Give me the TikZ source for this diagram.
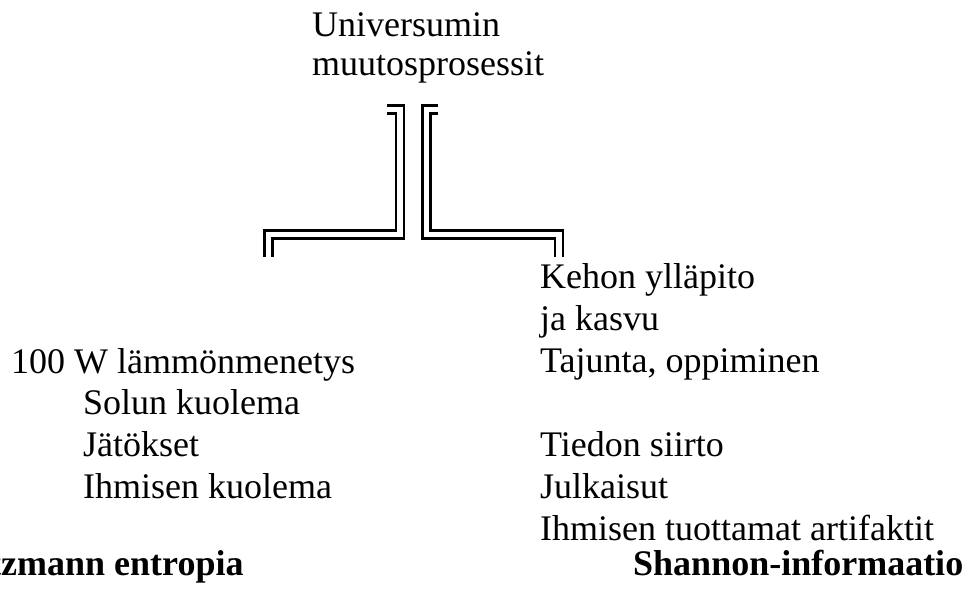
\documentclass[tikz,border=0pt]{standalone}
\usepackage{fontspec}
\setmainfont{Liberation Serif}
\begin{document}
\begin{tikzpicture}[x=1pt,y=-1pt,
  txt/.style={anchor=base west,inner sep=0pt,font=\fontsize{36}{42}\selectfont},
  btxt/.style={txt,font=\fontsize{36}{42}\selectfont\bfseries},
  pipe/.style={draw=black,line width=2.7pt,double=white,double distance=5.3pt,line join=miter}]
\useasboundingbox (0,0) rectangle (966,589);
\clip (0,0) rectangle (966,589);
% title
\node[txt] (t1) at (312,36) {Universumin};
\node[txt] (t2) at (312,75) {muutosprosessit};
% left list
\node[txt] (l1) at (11,373) {100 W lämmönmenetys};
\node[txt] (l2) at (83,414) {Solun kuolema};
\node[txt] (l3) at (83,456) {Jätökset};
\node[txt] (l4) at (83,498) {Ihmisen kuolema};
% right list
\node[txt] (r1) at (540,288) {Kehon ylläpito};
\node[txt] (r2) at (540,330) {ja kasvu};
\node[txt] (r3) at (540,372) {Tajunta, oppiminen};
\node[txt] (r4) at (540,456) {Tiedon siirto};
\node[txt] (r5) at (540,498) {Julkaisut};
\node[txt] (r6) at (540,540) {Ihmisen tuottamat artifaktit};
% headings
\node[btxt] (hl) at (-63,575) {Boltzmann entropia};
\node[btxt] (hr) at (633,575) {Shannon-informaatio};
% connectors
\coordinate (la) at (387,109.5);
\coordinate (lb) at (268.5,256.5);
\coordinate (ra) at (438,109.5);
\coordinate (rb) at (559,256.5);
\draw[pipe] (la) -- (400,109.5) -- (400,234.5) -| (lb);
\draw[pipe] (ra) -- (426.5,109.5) -- (426.5,234.5) -| (rb);
\end{tikzpicture}
\end{document}
